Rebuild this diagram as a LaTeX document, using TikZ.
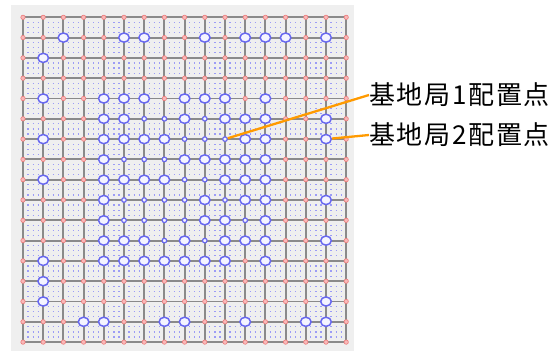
\documentclass[tikz,border=0pt]{standalone}
\usepackage{fontspec}
\newfontfamily\jpfont{Noto Sans CJK JP}
\usetikzlibrary{shapes.geometric}
\definecolor{bgc}{HTML}{EFEFEF}
\definecolor{gridc}{HTML}{8A8A8A}
\definecolor{redd}{HTML}{EC7A7A}
\definecolor{redf}{HTML}{F9B8B8}
\definecolor{bluec}{HTML}{6868F0}
\definecolor{bluef}{HTML}{F4F4FF}
\definecolor{dotc}{HTML}{9C9CF6}
\definecolor{orangec}{HTML}{FF9A00}
\newcommand{\jpgap}{\hspace{1.7pt}}
\begin{document}
\begin{tikzpicture}[x=1pt,y=-1pt,
  gridline/.style={draw=gridc,line width=1.9pt},
  redpt/.style={circle,draw=redd,fill=redf,line width=0.6pt,minimum size=4.4pt,inner sep=0pt},
  bigpt/.style={ellipse,draw=bluec,fill=bluef,line width=1.5pt,minimum width=10.6pt,minimum height=9.2pt,inner sep=0pt},
  smallpt/.style={circle,draw=bluec,fill=bluef,line width=1.2pt,minimum size=4.6pt,inner sep=0pt},
  jplabel/.style={font=\jpfont\fontsize{26}{26}\selectfont,anchor=west,inner sep=0pt},
  callout/.style={draw=orangec,line width=2.3pt}]
\def\sx{20.2}
\def\sy{20.3}
\def\xo{23}
\def\yo{17.3}
\useasboundingbox (0,0) rectangle (555,351);
\fill[bgc] (11,5) rectangle (354,351);
% fine dots
\foreach \j in {0,...,15}{
  \foreach \l in {1,2,3}{
    \pgfmathsetmacro{\yy}{\yo+(\j+\l/4)*\sy}
    \draw[dotc,line width=1.2pt,dash pattern=on 1.2pt off 3.85pt] (\xo-0.6,\yy) -- (\xo+16*\sx,\yy);
  }
}
% grid lines
\foreach \i in {0,...,16}{
  \draw[gridline] (\xo+\i*\sx,\yo) -- (\xo+\i*\sx,\yo+16*\sy);
  \draw[gridline] (\xo,\yo+\i*\sy) -- (\xo+16*\sx,\yo+\i*\sy);
}
% red intersection marks
\foreach \i in {0,...,16}{
  \foreach \j in {0,...,16}{
    \node[redpt] (r-\i-\j) at (\xo+\i*\sx,\yo+\j*\sy) {};
  }
}
% base station 2 candidate points (large)
\foreach \i/\j in {2/1,5/1,6/1,9/1,11/1,12/1,13/1,15/1,
  1/2,
  1/4,4/4,5/4,6/4,8/4,9/4,10/4,12/4,
  4/5,5/5,8/5,10/5,11/5,12/5,15/5,
  1/6,4/6,5/6,6/6,7/6,11/6,12/6,15/6,
  4/7,8/7,9/7,10/7,11/7,12/7,
  1/8,4/8,5/8,6/8,7/8,10/8,11/8,12/8,
  4/9,9/9,11/9,12/9,15/9,
  4/10,9/10,10/10,12/10,
  4/11,5/11,6/11,8/11,10/11,11/11,12/11,15/11,
  1/12,4/12,5/12,6/12,7/12,8/12,9/12,10/12,12/12,
  1/13,
  1/14,15/14,
  3/15,4/15,7/15,8/15,11/15,14/15,15/15}{
  \node[bigpt] (b-\i-\j) at (\xo+\i*\sx,\yo+\j*\sy) {};
}
% base station 1 candidate points (small)
\foreach \i/\j in {6/5,7/5,9/5,
  8/6,9/6,10/6,
  5/7,6/7,7/7,
  8/8,9/8,
  5/9,6/9,7/9,8/9,10/9,
  5/10,6/10,7/10,8/10,11/10,
  7/11,9/11}{
  \node[smallpt] (s-\i-\j) at (\xo+\i*\sx,\yo+\j*\sy) {};
}
% labels
\node[jplabel] (t1) at (369,95) {基\jpgap 地\jpgap 局\jpgap 1\jpgap 配\jpgap 置\jpgap 点};
\node[jplabel] (t2) at (369,135) {基\jpgap 地\jpgap 局\jpgap 2\jpgap 配\jpgap 置\jpgap 点};
\draw[callout] (s-10-6) -- (t1.west);
\draw[callout] (b-15-6) -- (t2.west);
\end{tikzpicture}
\end{document}
